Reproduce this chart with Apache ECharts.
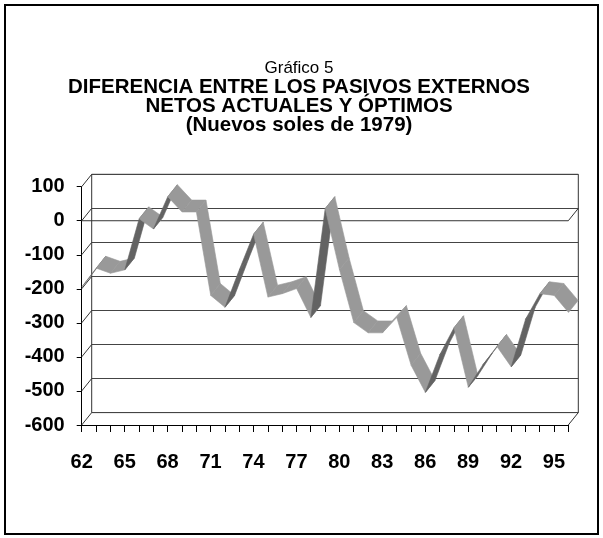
<!DOCTYPE html>
<html>
<head>
<meta charset="utf-8">
<script src="https://cdn.jsdelivr.net/npm/echarts@6/dist/echarts.min.js"></script>
<style>
  body { margin: 0; background: #fff; }
  #chart { position: absolute; left: 0; top: 0; width: 603px; height: 538px; }
  #frame { position: absolute; left: 4px; top: 4px; width: 591px; height: 527px; border: 2.5px solid #000; pointer-events: none; }
</style>
</head>
<body>
<div id="chart"></div>
<div id="frame"></div>
<script>
// años (eje de categorías)
const years = ['62','63','64','65','66','67','68','69','70','71','72','73','74','75','76','77','78','79',
  '80','81','82','83','84','85','86','87','88','89','90','91','92','93','94','95','96']
// diferencia entre pasivos externos netos actuales y óptimos
const values = [-195, -140, -155, -145, 5, -25, 70, 25, 25, -220, -255, -145, -40, -225, -215, -200, -285, 35,
  -145, -300, -330, -330, -285, -425, -505, -395, -315, -490, -425, -370, -430, -290, -215, -220, -270]
const yTicks = [100, 0, -100, -200, -300, -400, -500, -600]

// efecto 3D: desplazamiento de la pared del fondo
const D = [10, -12.4]
const RIB_F = 0.02, RIB_B = 0.98
const LIGHT = '#999999', DARK = '#636363'
const FONT = 'Liberation Sans, Arial, sans-serif'

const front = { left: 81.7, top: 186.7, width: 486.6, height: 238.3 }
const back = { left: front.left + D[0], top: front.top + D[1], width: front.width, height: front.height }

const segs = values.slice(0, -1).map((v, i) => [i, v, i + 1, values[i + 1]])
const last = years.length - 1

const chart = echarts.init(document.getElementById('chart'))
chart.setOption({
  animation: false,
  title: {
    left: 294, top: 54, textAlign: 'center',
    text: '{a|Gráfico 5}\n{b|DIFERENCIA ENTRE LOS PASIVOS EXTERNOS}\n{b|NETOS ACTUALES Y ÓPTIMOS}\n{b|(Nuevos soles de 1979)}',
    textStyle: {
      rich: {
        a: { fontFamily: FONT, fontSize: 17, fontWeight: 'normal', color: '#000', lineHeight: 19 },
        b: { fontFamily: FONT, fontSize: 20.5, fontWeight: 'bold', color: '#000', lineHeight: 19 }
      }
    }
  },
  grid: [
    { ...front, containLabel: false },
    { ...back, containLabel: false, show: true, borderColor: '#333', borderWidth: 1, backgroundColor: 'transparent' }
  ],
  xAxis: [
    {
      gridIndex: 0, type: 'category', data: years, boundaryGap: false,
      axisLine: { onZero: false, lineStyle: { color: '#000', width: 1 } },
      axisTick: { interval: 0, length: 7, lineStyle: { color: '#000' } },
      axisLabel: { interval: 2, margin: 27, color: '#000', fontFamily: FONT, fontSize: 20, fontWeight: 'bold' },
      splitLine: { show: false }
    },
    {
      gridIndex: 1, type: 'category', data: years, boundaryGap: false,
      axisLine: { show: false }, axisTick: { show: false }, axisLabel: { show: false }, splitLine: { show: false }
    }
  ],
  yAxis: [
    {
      gridIndex: 0, type: 'value', min: -600, max: 100, interval: 100,
      axisLine: { show: true, lineStyle: { color: '#000', width: 1 } },
      axisTick: { show: true, length: 5, lineStyle: { color: '#000' } },
      axisLabel: { margin: 17, color: '#000', fontFamily: FONT, fontSize: 20, fontWeight: 'bold' },
      splitLine: { show: false }
    },
    {
      gridIndex: 1, type: 'value', min: -600, max: 100, interval: 100,
      axisLine: { show: false }, axisTick: { show: false }, axisLabel: { show: false },
      splitLine: { show: true, lineStyle: { color: '#444', width: 1 } }
    }
  ],
  series: [
    {
      // paredes laterales y plano del cero
      type: 'custom', xAxisIndex: 0, yAxisIndex: 0, z: 1, silent: true, clip: false,
      data: yTicks.map(v => [0, v]),
      encode: { x: 0, y: 1 },
      renderItem(params, api) {
        const v = api.value(1)
        const l = api.coord([0, v])
        const r = api.coord([last, v])
        const st = { stroke: '#333', lineWidth: 1 }
        const kids = [{ type: 'line', shape: { x1: l[0], y1: l[1], x2: l[0] + D[0], y2: l[1] + D[1] }, style: st }]
        if (v === 0) {
          kids.push({ type: 'line', shape: { x1: l[0], y1: l[1], x2: r[0], y2: r[1] }, style: st })
        }
        if (v === 0 || v === -600) {
          kids.push({ type: 'line', shape: { x1: r[0], y1: r[1], x2: r[0] + D[0], y2: r[1] + D[1] }, style: st })
        }
        return { type: 'group', children: kids }
      }
    },
    {
      // cinta 3D de la serie
      type: 'custom', xAxisIndex: 0, yAxisIndex: 0, z: 3, silent: true, clip: false,
      data: segs,
      encode: { x: [0, 2], y: [1, 3] },
      renderItem(params, api) {
        const a = api.coord([api.value(0), api.value(1)])
        const b = api.coord([api.value(2), api.value(3)])
        const pts = [
          [a[0] + D[0] * RIB_F, a[1] + D[1] * RIB_F],
          [b[0] + D[0] * RIB_F, b[1] + D[1] * RIB_F],
          [b[0] + D[0] * RIB_B, b[1] + D[1] * RIB_B],
          [a[0] + D[0] * RIB_B, a[1] + D[1] * RIB_B]
        ]
        const cross = (b[0] - a[0]) * D[1] - (b[1] - a[1]) * D[0]
        const c = cross > 0 ? DARK : LIGHT
        return { type: 'polygon', shape: { points: pts }, style: { fill: c, stroke: c, lineWidth: 0.6 } }
      }
    }
  ]
})
</script>
</body>
</html>
